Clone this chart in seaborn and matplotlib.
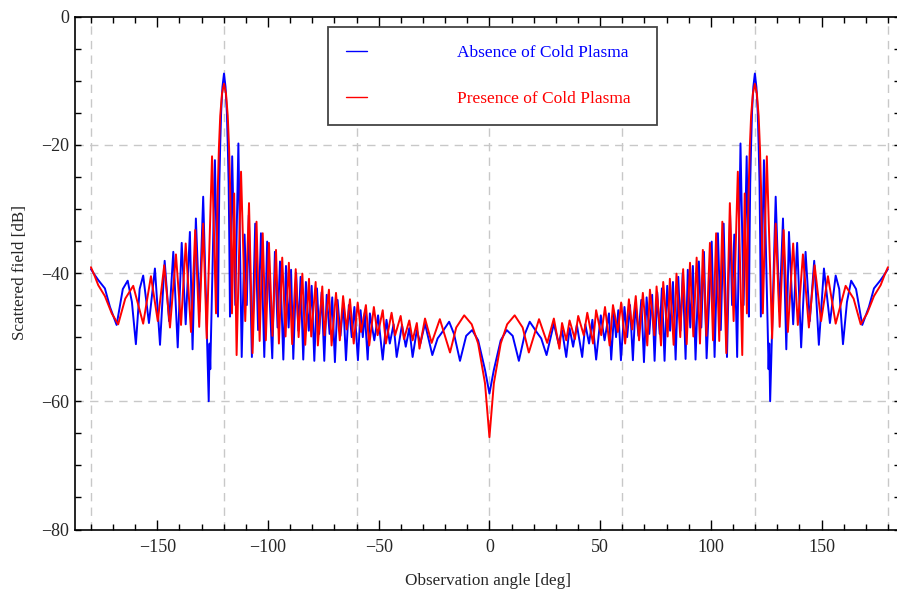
import matplotlib
matplotlib.use("Agg")
import matplotlib.pyplot as plt
from matplotlib.ticker import MultipleLocator
from matplotlib.lines import Line2D
import seaborn as sns
import pandas as pd

# ---- data (left half; the pattern is mirror-symmetric) ----
blue_ang = [-180.0, -178.5, -176.7, -173.7, -171.4, -168.4, -165.6, -163.4, -161.5, -159.7,
            -158.0, -156.4, -153.8, -151.1, -148.8, -146.7, -144.7, -142.8, -140.8, -139.0,
            -137.2, -135.3, -134.1, -132.6, -131.0, -129.3, -126.8, -126.4, -126.1, -124.0,
            -122.6, -122.3, -122.0, -121.6, -121.2, -120.6, -119.9, -119.2, -118.6, -118.2,
            -117.8, -117.5, -117.2, -116.2, -114.8, -113.4,
            -111.9, -110.6, -109.6, -108.7, -107.3, -105.8, -104.5, -103.2, -101.7, -100.4,
            -98.1, -96.9, -95.7, -94.6, -93.1, -91.9, -90.7, -89.6, -88.6, -87.3,
            -86.3, -85.3, -84.1, -82.9, -81.6, -80.3, -79.1, -77.9, -76.9, -75.8,
            -74.6, -73.5, -72.2, -71.0, -69.8, -68.6, -67.3, -66.0, -64.8, -63.5,
            -62.2, -61.0, -59.4, -58.2, -57.2, -56.3, -55.0, -54.0, -52.0, -50.3,
            -48.2, -46.5, -45.0, -43.3, -41.9, -39.5, -37.8, -36.2, -34.7, -32.8,
            -31.2, -29.1, -25.8, -23.4, -21.5, -18.2, -16.0, -13.3, -10.5, -7.8,
            -5.1, -2.0, 0.0]
blue_db = [-39.4, -40.2, -41.1, -42.4, -45.3, -48.1, -42.5, -41.2, -44.5, -51.1,
           -42.5, -40.4, -47.8, -39.3, -51.2, -38.1, -47.5, -36.7, -51.6, -35.3,
           -48.0, -33.6, -51.9, -31.5, -46.0, -28.1, -60.0, -51.0, -55.0, -22.4,
           -46.8, -35.0, -26.0, -20.0, -15.0, -11.0, -8.9, -11.0, -15.0, -20.0,
           -26.0, -35.0, -46.8, -21.8, -45.0, -19.8,
           -53.1, -34.0, -45.0, -31.0, -53.1, -32.3, -48.9, -33.8, -53.1, -35.1,
           -53.3, -36.7, -48.5, -38.2, -53.5, -38.9, -48.5, -39.5, -53.4, -40.0,
           -49.0, -40.6, -53.5, -41.4, -49.0, -42.0, -53.7, -42.4, -49.5, -43.0,
           -53.7, -43.4, -49.5, -43.8, -53.9, -44.2, -49.8, -44.7, -53.6, -45.0,
           -50.0, -45.3, -53.6, -45.8, -50.0, -46.2, -53.5, -46.3, -50.5, -46.6,
           -53.5, -47.3, -51.0, -48.0, -53.1, -48.1, -51.5, -48.6, -53.1, -48.9,
           -51.0, -47.9, -52.8, -50.2, -49.3, -47.6, -49.5, -53.7, -49.8, -48.9,
           -50.5, -55.1, -58.8]

red_ang = [-180.0, -178.5, -176.7, -173.7, -170.6, -167.7, -164.5, -160.9, -156.4, -152.9,
           -149.8, -146.9, -144.3, -141.6, -139.3, -137.2, -134.8, -132.9, -131.1, -129.3,
           -127.7, -125.3, -123.5, -123.1, -122.7, -122.2, -121.6, -120.8, -119.9, -119.0,
           -118.2, -117.6, -117.1, -116.7, -116.3, -115.3,
           -114.2, -112.2, -110.3, -108.6, -107.0, -105.2, -103.8, -102.4, -101.0, -99.6,
           -98.0, -96.4, -95.1, -93.6, -92.1, -90.6, -89.1, -87.5, -86.2, -84.5,
           -83.2, -81.5, -80.5, -78.5, -77.5, -75.5, -74.5, -72.5, -71.3, -69.3,
           -67.6, -66.1, -64.5, -63.0, -61.3, -59.5, -58.0, -55.8, -54.3, -52.2,
           -50.5, -48.2, -46.8, -44.2, -42.6, -40.1, -38.6, -36.2, -34.7, -32.8,
           -31.6, -29.1, -26.1, -22.4, -17.8, -15.0, -11.4, -8.0, -5.1, -2.0,
           0.0]
red_db = [-39.1, -40.3, -41.9, -43.6, -46.3, -48.0, -44.0, -42.0, -47.9, -40.5,
          -47.5, -38.8, -48.5, -37.1, -48.1, -35.4, -49.2, -33.3, -48.4, -32.3,
          -50.2, -21.8, -46.3, -35.0, -27.0, -20.5, -15.5, -12.0, -10.5, -12.0,
          -15.5, -20.5, -27.0, -35.0, -46.3, -27.6,
          -52.8, -24.2, -47.5, -29.1, -52.5, -32.0, -50.6, -33.8, -50.5, -35.3,
          -49.8, -36.4, -51.0, -37.6, -49.9, -38.4, -51.1, -39.4, -50.0, -40.1,
          -51.2, -40.9, -49.9, -41.4, -51.3, -42.1, -49.7, -42.6, -51.3, -43.1,
          -50.5, -43.6, -48.8, -44.1, -51.0, -44.6, -49.2, -45.0, -51.3, -45.3,
          -49.7, -45.8, -51.0, -46.2, -49.7, -46.7, -50.3, -47.4, -50.5, -47.8,
          -51.8, -47.1, -50.9, -47.2, -52.4, -48.5, -46.6, -48.0, -51.0, -57.2,
          -65.6]

series_names = ["Absence of Cold Plasma", "Presence of Cold Plasma"]
series_colors = ["#0000ff", "#ff0000"]
x_label = "Observation angle [deg]"
y_label = "Scattered field [dB]"


def full(ang, db):
    a = list(ang) + [-v for v in reversed(ang[:-1])]
    d = list(db) + list(reversed(db[:-1]))
    return a, d


rows = []
for name, (ang, db) in zip(series_names, [(blue_ang, blue_db), (red_ang, red_db)]):
    a, d = full(ang, db)
    for xa, yd in zip(a, d):
        rows.append({"angle": xa, "dB": yd, "series": name})
df = pd.DataFrame(rows)

sns.set_style("ticks")
plt.rcParams["font.family"] = ["Liberation Serif", "DejaVu Serif"]

fig = plt.figure(figsize=(8.97, 5.92), dpi=100)
W, H = 897.0, 592.0
ax = fig.add_axes([75 / W, (H - 529.5) / H, (900.1 - 75) / W, (529.5 - 16.5) / H])

# grid lines (dashed, light grey)
for gx in [-180, -120, -60, 0, 60, 120, 180]:
    ax.axvline(gx, color="#c8c8c8", lw=1.0, ls=(0, (6, 4.5)), zorder=0)
for gy in [-20, -40, -60]:
    ax.axhline(gy, color="#c8c8c8", lw=1.0, ls=(0, (6, 4.5)), zorder=0)

sns.lineplot(data=df, x="angle", y="dB", hue="series", hue_order=series_names,
             palette=series_colors, estimator=None, sort=False, units="series",
             lw=1.4, ax=ax, legend=False)

ax.set_xlim(-187.2, 185.5)
ax.set_ylim(-80, 0)
ax.xaxis.set_major_locator(MultipleLocator(50))
ax.xaxis.set_minor_locator(MultipleLocator(10))
ax.yaxis.set_major_locator(MultipleLocator(20))
ax.yaxis.set_minor_locator(MultipleLocator(5))
ax.tick_params(axis="both", which="both", direction="in", top=True, right=True,
               color="black", width=1.0)
ax.tick_params(axis="x", which="major", length=7, pad=7, labelsize=13)
ax.tick_params(axis="x", which="minor", length=4)
ax.tick_params(axis="y", which="major", length=4.5, pad=4, labelsize=13)
ax.tick_params(axis="y", which="minor", length=4.5)
for s in ax.spines.values():
    s.set_linewidth(1.2)
    s.set_color("black")

ax.set_xlabel(x_label, fontsize=12.3, labelpad=12)
ax.set_ylabel(y_label, fontsize=12.3, labelpad=10)

handles = [Line2D([0], [0], color=c, lw=1.0) for c in series_colors]
x0 = (328 - 75) / 825.1
w = (657 - 328) / 825.1
y1 = (529.5 - 27) / 513.0
hgt = (125 - 27) / 513.0
leg = ax.legend(handles, series_names, loc="upper left",
                bbox_to_anchor=(x0, y1 - hgt, w, hgt), mode="expand",
                borderaxespad=0, fontsize=12.5, handlelength=1.2,
                handletextpad=5.2, labelspacing=1.7, borderpad=1.05,
                frameon=True, fancybox=False, framealpha=1.0)
leg.get_frame().set_edgecolor("#444444")
leg.get_frame().set_linewidth(1.3)
for t, c in zip(leg.get_texts(), series_colors):
    t.set_color(c)

fig.savefig("out.png", dpi=100)
